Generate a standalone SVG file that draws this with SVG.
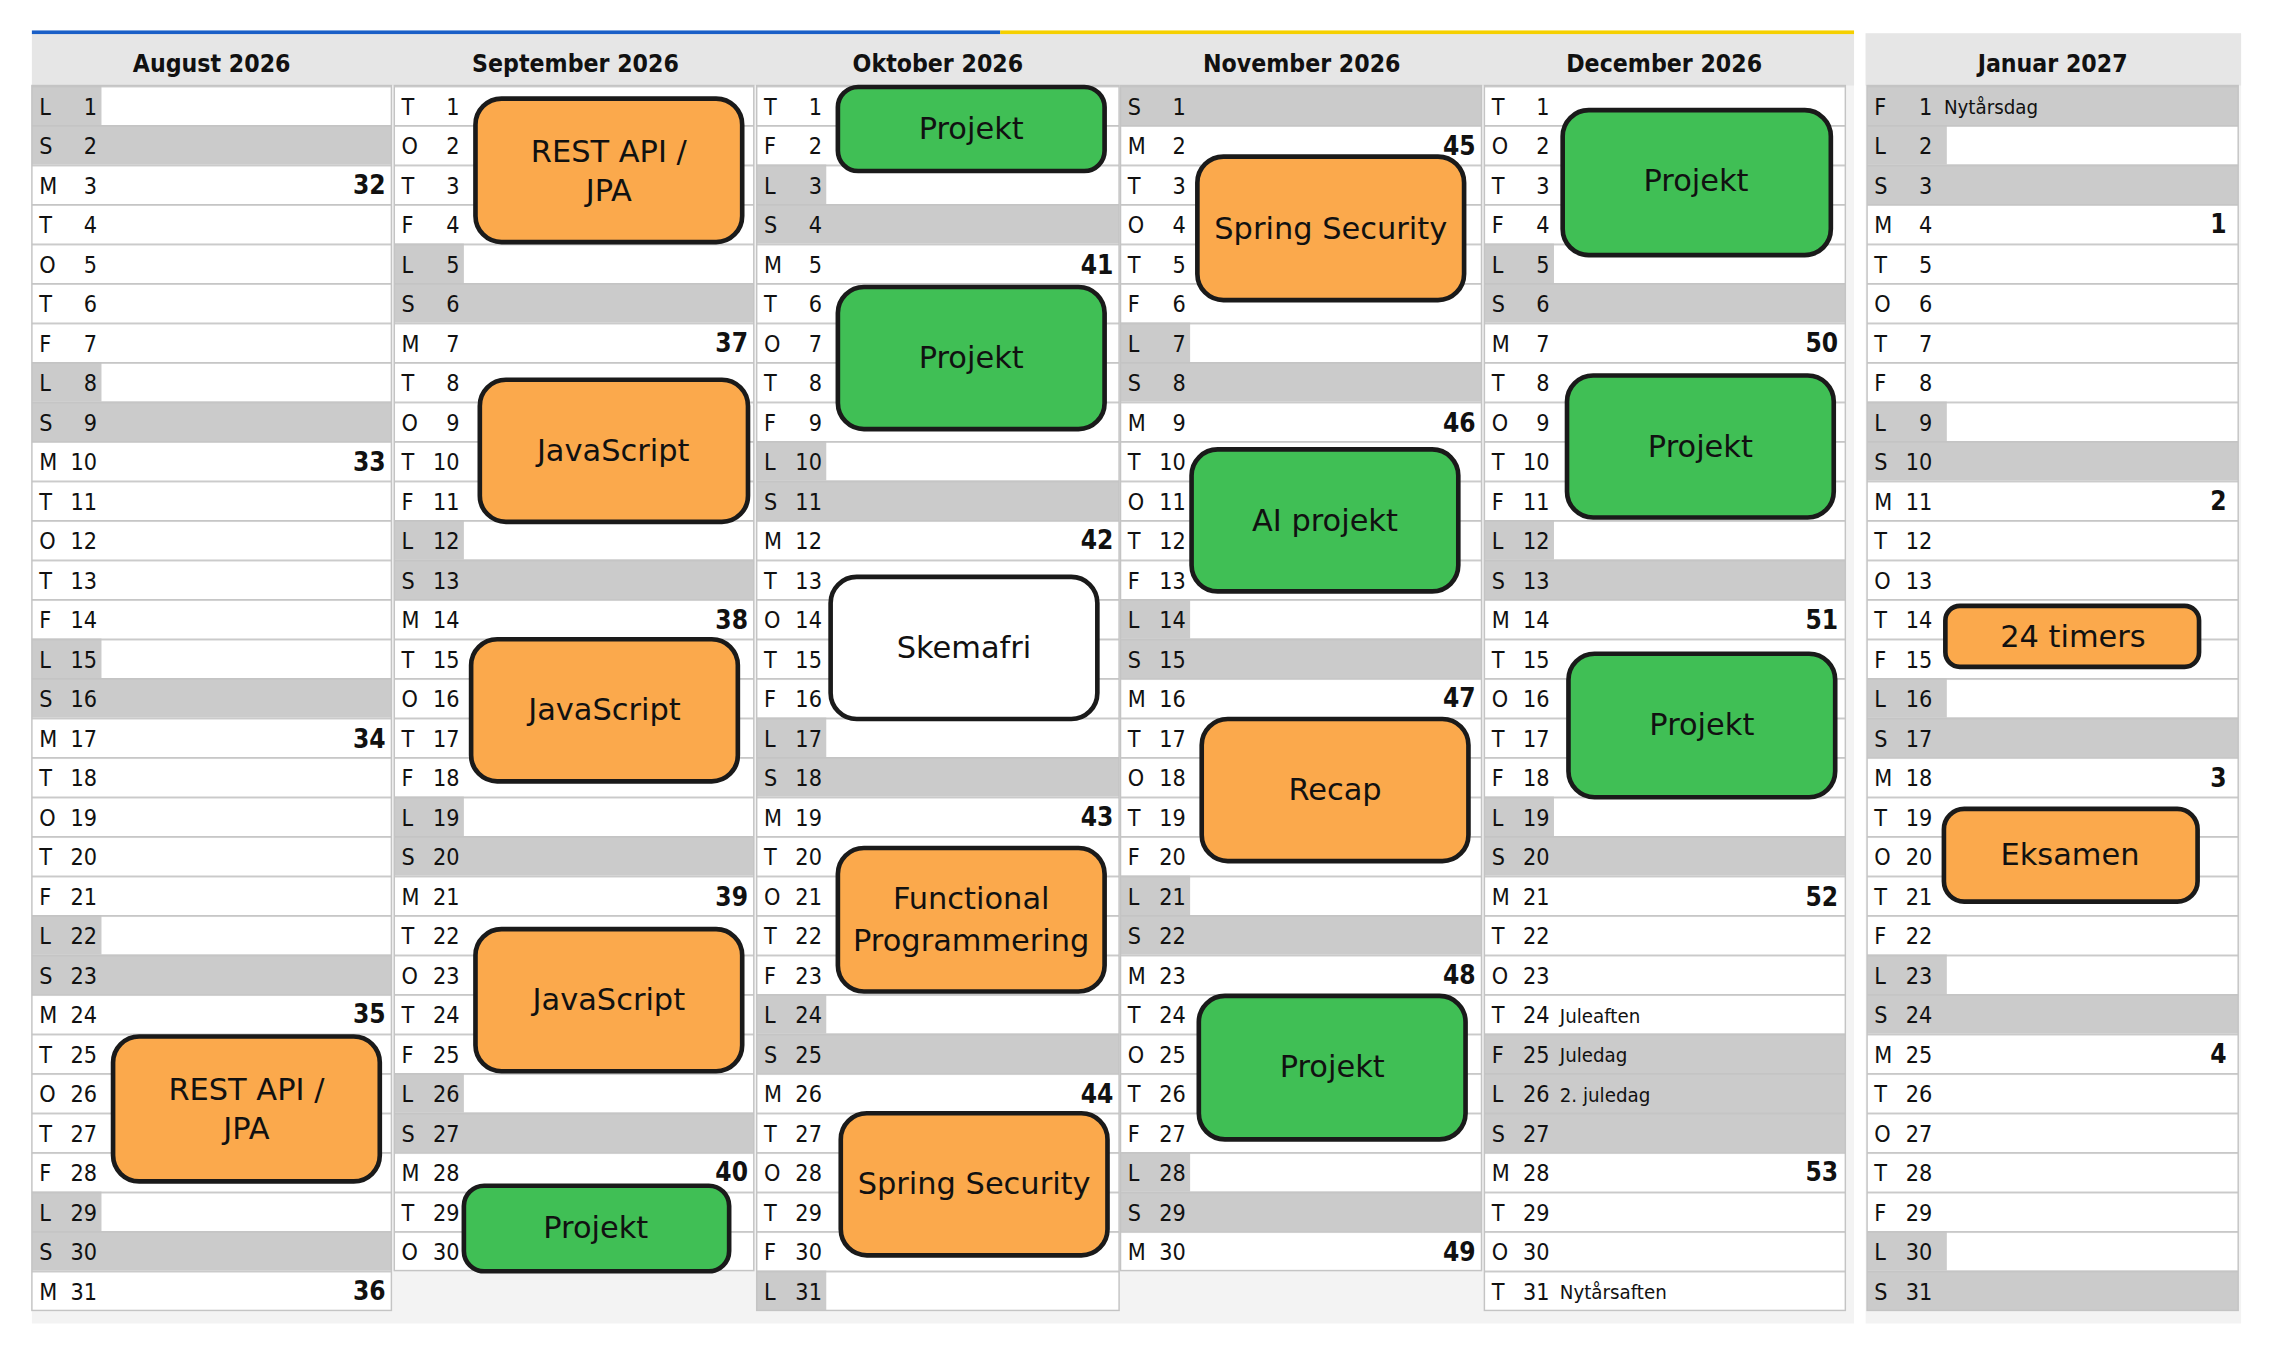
<svg xmlns="http://www.w3.org/2000/svg" width="2273" height="1355" viewBox="0 0 2273 1355">
<style>
.t{font-family:"DejaVu Sans Condensed","DejaVu Sans",sans-serif;font-size:16px;fill:#111}
.h{font-family:"DejaVu Sans Condensed","DejaVu Sans",sans-serif;font-size:17px;font-weight:bold;fill:#111;text-anchor:middle}
.wk{font-family:"DejaVu Sans Condensed","DejaVu Sans",sans-serif;font-size:18px;font-weight:bold;fill:#111;text-anchor:end}
.hol{font-family:"DejaVu Sans Condensed","DejaVu Sans",sans-serif;font-size:14px;fill:#111}
.g{fill:#cbcbcb}
.o{fill:#fba94c;stroke:#1a1a1a;stroke-width:3.2}
.gr{fill:#40bf55;stroke:#1a1a1a;stroke-width:3.2}
.w{fill:#fff;stroke:#1a1a1a;stroke-width:3.2}
.bt{font-family:"DejaVu Sans",sans-serif;font-size:21px;fill:#111;text-anchor:middle}
</style>
<defs>
<pattern id="rows" x="0" y="59" width="250" height="27.25" patternUnits="userSpaceOnUse">
<rect x="0" y="0" width="250" height="1.2" fill="#c4c4c4"/>
</pattern>
<text id="d31" class="t" text-anchor="end"><tspan x="45" y="79">1</tspan><tspan x="45" y="106.25">2</tspan><tspan x="45" y="133.5">3</tspan><tspan x="45" y="160.75">4</tspan><tspan x="45" y="188">5</tspan><tspan x="45" y="215.25">6</tspan><tspan x="45" y="242.5">7</tspan><tspan x="45" y="269.75">8</tspan><tspan x="45" y="297">9</tspan><tspan x="45" y="324.25">10</tspan><tspan x="45" y="351.5">11</tspan><tspan x="45" y="378.75">12</tspan><tspan x="45" y="406">13</tspan><tspan x="45" y="433.25">14</tspan><tspan x="45" y="460.5">15</tspan><tspan x="45" y="487.75">16</tspan><tspan x="45" y="515">17</tspan><tspan x="45" y="542.25">18</tspan><tspan x="45" y="569.5">19</tspan><tspan x="45" y="596.75">20</tspan><tspan x="45" y="624">21</tspan><tspan x="45" y="651.25">22</tspan><tspan x="45" y="678.5">23</tspan><tspan x="45" y="705.75">24</tspan><tspan x="45" y="733">25</tspan><tspan x="45" y="760.25">26</tspan><tspan x="45" y="787.5">27</tspan><tspan x="45" y="814.75">28</tspan><tspan x="45" y="842">29</tspan><tspan x="45" y="869.25">30</tspan><tspan x="45" y="896.5">31</tspan></text>
<text id="d30" class="t" text-anchor="end"><tspan x="45" y="79">1</tspan><tspan x="45" y="106.25">2</tspan><tspan x="45" y="133.5">3</tspan><tspan x="45" y="160.75">4</tspan><tspan x="45" y="188">5</tspan><tspan x="45" y="215.25">6</tspan><tspan x="45" y="242.5">7</tspan><tspan x="45" y="269.75">8</tspan><tspan x="45" y="297">9</tspan><tspan x="45" y="324.25">10</tspan><tspan x="45" y="351.5">11</tspan><tspan x="45" y="378.75">12</tspan><tspan x="45" y="406">13</tspan><tspan x="45" y="433.25">14</tspan><tspan x="45" y="460.5">15</tspan><tspan x="45" y="487.75">16</tspan><tspan x="45" y="515">17</tspan><tspan x="45" y="542.25">18</tspan><tspan x="45" y="569.5">19</tspan><tspan x="45" y="596.75">20</tspan><tspan x="45" y="624">21</tspan><tspan x="45" y="651.25">22</tspan><tspan x="45" y="678.5">23</tspan><tspan x="45" y="705.75">24</tspan><tspan x="45" y="733">25</tspan><tspan x="45" y="760.25">26</tspan><tspan x="45" y="787.5">27</tspan><tspan x="45" y="814.75">28</tspan><tspan x="45" y="842">29</tspan><tspan x="45" y="869.25">30</tspan></text>
</defs>
<rect width="2273" height="1355" fill="#fff"/>
<g transform="scale(1.4496)">
<rect x="22" y="23" width="1257" height="890" fill="#f3f3f3"/>
<rect x="1287" y="23" width="259" height="890" fill="#f3f3f3"/>
<rect x="22" y="23" width="1257" height="36" fill="#e6e6e6"/>
<rect x="1287" y="23" width="259" height="36" fill="#e6e6e6"/>
<rect x="22" y="21" width="668" height="2.5" fill="#1a5fc7"/>
<rect x="690" y="21" width="589" height="2.5" fill="#f5d000"/>
<text class="h" x="146" y="50">August 2026</text>
<text class="h" x="397" y="50">September 2026</text>
<text class="h" x="647" y="50">Oktober 2026</text>
<text class="h" x="898" y="50">November 2026</text>
<text class="h" x="1148" y="50">December 2026</text>
<text class="h" x="1416" y="50">Januar 2027</text>

<g id="aug" transform="translate(22,0)">
<rect x="0" y="59" width="248" height="845" fill="#fff"/>
<rect x="0" y="59" width="48" height="27.25" class="g"/><rect x="0" y="86.25" width="248" height="27.25" class="g"/>
<rect x="0" y="249.75" width="48" height="27.25" class="g"/><rect x="0" y="277" width="248" height="27.25" class="g"/>
<rect x="0" y="440.5" width="48" height="27.25" class="g"/><rect x="0" y="467.75" width="248" height="27.25" class="g"/>
<rect x="0" y="631.25" width="48" height="27.25" class="g"/><rect x="0" y="658.5" width="248" height="27.25" class="g"/>
<rect x="0" y="822" width="48" height="27.25" class="g"/><rect x="0" y="849.25" width="248" height="27.25" class="g"/>
<rect x="0" y="59" width="248" height="845" fill="url(#rows)"/>
<rect x="0" y="59" width="248" height="845" fill="none" stroke="#c4c4c4"/>
<use href="#d31"/>
<text class="wk" x="244" y="134">32</text><text class="wk" x="244" y="325">33</text><text class="wk" x="244" y="516">34</text><text class="wk" x="244" y="706">35</text><text class="wk" x="244" y="897">36</text>
</g>

<g id="sep" transform="translate(272,0)">
<rect x="0" y="59" width="248" height="817.5" fill="#fff"/>
<rect x="0" y="168" width="48" height="27.25" class="g"/><rect x="0" y="195.25" width="248" height="27.25" class="g"/>
<rect x="0" y="358.75" width="48" height="27.25" class="g"/><rect x="0" y="386" width="248" height="27.25" class="g"/>
<rect x="0" y="549.5" width="48" height="27.25" class="g"/><rect x="0" y="576.75" width="248" height="27.25" class="g"/>
<rect x="0" y="740.25" width="48" height="27.25" class="g"/><rect x="0" y="767.5" width="248" height="27.25" class="g"/>
<rect x="0" y="59" width="248" height="817.5" fill="url(#rows)"/>
<rect x="0" y="59" width="248" height="817.5" fill="none" stroke="#c4c4c4"/>
<use href="#d30"/>
<text class="wk" x="244" y="243">37</text><text class="wk" x="244" y="434">38</text><text class="wk" x="244" y="625">39</text><text class="wk" x="244" y="815">40</text>
</g>

<g id="okt" transform="translate(522,0)">
<rect x="0" y="59" width="250" height="845" fill="#fff"/>
<rect x="0" y="113.5" width="48" height="27.25" class="g"/><rect x="0" y="140.75" width="250" height="27.25" class="g"/>
<rect x="0" y="304.25" width="48" height="27.25" class="g"/><rect x="0" y="331.5" width="250" height="27.25" class="g"/>
<rect x="0" y="495" width="48" height="27.25" class="g"/><rect x="0" y="522.25" width="250" height="27.25" class="g"/>
<rect x="0" y="685.75" width="48" height="27.25" class="g"/><rect x="0" y="713" width="250" height="27.25" class="g"/>
<rect x="0" y="876.5" width="48" height="27.25" class="g"/>
<rect x="0" y="59" width="250" height="845" fill="url(#rows)"/>
<rect x="0" y="59" width="250" height="845" fill="none" stroke="#c4c4c4"/>
<use href="#d31"/>
<text class="wk" x="246" y="189">41</text><text class="wk" x="246" y="379">42</text><text class="wk" x="246" y="570">43</text><text class="wk" x="246" y="761">44</text>
</g>

<g id="nov" transform="translate(773,0)">
<rect x="0" y="59" width="249" height="817.5" fill="#fff"/>
<rect x="0" y="59" width="249" height="27.25" class="g"/>
<rect x="0" y="222.5" width="48" height="27.25" class="g"/><rect x="0" y="249.75" width="249" height="27.25" class="g"/>
<rect x="0" y="413.25" width="48" height="27.25" class="g"/><rect x="0" y="440.5" width="249" height="27.25" class="g"/>
<rect x="0" y="604" width="48" height="27.25" class="g"/><rect x="0" y="631.25" width="249" height="27.25" class="g"/>
<rect x="0" y="794.75" width="48" height="27.25" class="g"/><rect x="0" y="822" width="249" height="27.25" class="g"/>
<rect x="0" y="59" width="249" height="817.5" fill="url(#rows)"/>
<rect x="0" y="59" width="249" height="817.5" fill="none" stroke="#c4c4c4"/>
<use href="#d30"/>
<text class="wk" x="245" y="107">45</text><text class="wk" x="245" y="298">46</text><text class="wk" x="245" y="488">47</text><text class="wk" x="245" y="679">48</text><text class="wk" x="245" y="870">49</text>
</g>

<g id="dec" transform="translate(1024,0)">
<rect x="0" y="59" width="249" height="845" fill="#fff"/>
<rect x="0" y="168" width="48" height="27.25" class="g"/><rect x="0" y="195.25" width="249" height="27.25" class="g"/>
<rect x="0" y="358.75" width="48" height="27.25" class="g"/><rect x="0" y="386" width="249" height="27.25" class="g"/>
<rect x="0" y="549.5" width="48" height="27.25" class="g"/><rect x="0" y="576.75" width="249" height="27.25" class="g"/>
<rect x="0" y="713" width="249" height="81.75" class="g"/>
<rect x="0" y="59" width="249" height="845" fill="url(#rows)"/>
<rect x="0" y="59" width="249" height="845" fill="none" stroke="#c4c4c4"/>
<use href="#d31"/>
<text class="hol" x="52" y="705.5">Juleaften</text><text class="hol" x="52" y="732.75">Juledag</text><text class="hol" x="52" y="760">2. juledag</text><text class="hol" x="52" y="896.25">Nytårsaften</text>
<text class="wk" x="244" y="243">50</text><text class="wk" x="244" y="434">51</text><text class="wk" x="244" y="625">52</text><text class="wk" x="244" y="815">53</text>
</g>

<g id="jan" transform="translate(1288,0)">
<rect x="0" y="59" width="256" height="845" fill="#fff"/>
<rect x="0" y="59" width="256" height="27.25" class="g"/>
<rect x="0" y="86.25" width="55" height="27.25" class="g"/><rect x="0" y="113.5" width="256" height="27.25" class="g"/>
<rect x="0" y="277" width="55" height="27.25" class="g"/><rect x="0" y="304.25" width="256" height="27.25" class="g"/>
<rect x="0" y="467.75" width="55" height="27.25" class="g"/><rect x="0" y="495" width="256" height="27.25" class="g"/>
<rect x="0" y="658.5" width="55" height="27.25" class="g"/><rect x="0" y="685.75" width="256" height="27.25" class="g"/>
<rect x="0" y="849.25" width="55" height="27.25" class="g"/><rect x="0" y="876.5" width="256" height="27.25" class="g"/>
<rect x="0" y="59" width="256" height="845" fill="url(#rows)"/>
<rect x="0" y="59" width="256" height="845" fill="none" stroke="#c4c4c4"/>
<use href="#d31"/>
<text class="hol" x="53" y="78.5">Nytårsdag</text>
<text class="wk" x="248" y="161">1</text><text class="wk" x="248" y="352">2</text><text class="wk" x="248" y="543">3</text><text class="wk" x="248" y="733">4</text>
</g>

<g id="letters">
<text class="t" x="27 27 27 27 27 27 27 27 27 27 27 27 27 27 27 27 27 27 27 27 27 27 27 27 27 27 27 27 27 27 27" y="79 106.25 133.5 160.75 188 215.25 242.5 269.75 297 324.25 351.5 378.75 406 433.25 460.5 487.75 515 542.25 569.5 596.75 624 651.25 678.5 705.75 733 760.25 787.5 814.75 842 869.25 896.5">LSMTOTFLSMTOTFLSMTOTFLSMTOTFLSM</text>
<text class="t" x="277 277 277 277 277 277 277 277 277 277 277 277 277 277 277 277 277 277 277 277 277 277 277 277 277 277 277 277 277 277" y="79 106.25 133.5 160.75 188 215.25 242.5 269.75 297 324.25 351.5 378.75 406 433.25 460.5 487.75 515 542.25 569.5 596.75 624 651.25 678.5 705.75 733 760.25 787.5 814.75 842 869.25">TOTFLSMTOTFLSMTOTFLSMTOTFLSMTO</text>
<text class="t" x="527 527 527 527 527 527 527 527 527 527 527 527 527 527 527 527 527 527 527 527 527 527 527 527 527 527 527 527 527 527 527" y="79 106.25 133.5 160.75 188 215.25 242.5 269.75 297 324.25 351.5 378.75 406 433.25 460.5 487.75 515 542.25 569.5 596.75 624 651.25 678.5 705.75 733 760.25 787.5 814.75 842 869.25 896.5">TFLSMTOTFLSMTOTFLSMTOTFLSMTOTFL</text>
<text class="t" x="778 778 778 778 778 778 778 778 778 778 778 778 778 778 778 778 778 778 778 778 778 778 778 778 778 778 778 778 778 778" y="79 106.25 133.5 160.75 188 215.25 242.5 269.75 297 324.25 351.5 378.75 406 433.25 460.5 487.75 515 542.25 569.5 596.75 624 651.25 678.5 705.75 733 760.25 787.5 814.75 842 869.25">SMTOTFLSMTOTFLSMTOTFLSMTOTFLSM</text>
<text class="t" x="1029 1029 1029 1029 1029 1029 1029 1029 1029 1029 1029 1029 1029 1029 1029 1029 1029 1029 1029 1029 1029 1029 1029 1029 1029 1029 1029 1029 1029 1029 1029" y="79 106.25 133.5 160.75 188 215.25 242.5 269.75 297 324.25 351.5 378.75 406 433.25 460.5 487.75 515 542.25 569.5 596.75 624 651.25 678.5 705.75 733 760.25 787.5 814.75 842 869.25 896.5">TOTFLSMTOTFLSMTOTFLSMTOTFLSMTOT</text>
<text class="t" x="1293 1293 1293 1293 1293 1293 1293 1293 1293 1293 1293 1293 1293 1293 1293 1293 1293 1293 1293 1293 1293 1293 1293 1293 1293 1293 1293 1293 1293 1293 1293" y="79 106.25 133.5 160.75 188 215.25 242.5 269.75 297 324.25 351.5 378.75 406 433.25 460.5 487.75 515 542.25 569.5 596.75 624 651.25 678.5 705.75 733 760.25 787.5 814.75 842 869.25 896.5">FLSMTOTFLSMTOTFLSMTOTFLSMTOTFLS</text>
</g>

<g id="b1"><rect class="o" x="328" y="68" width="184" height="99" rx="18"/><text class="bt" x="420" y="112">REST API /</text><text class="bt" x="420" y="139">JPA</text></g>
<g id="b2"><rect class="o" x="331" y="262" width="185" height="98" rx="18"/><text class="bt" x="423" y="318">JavaScript</text></g>
<g id="b3"><rect class="o" x="325" y="441" width="184" height="98" rx="18"/><text class="bt" x="417" y="497">JavaScript</text></g>
<g id="b4"><rect class="o" x="328" y="641" width="184" height="98" rx="18"/><text class="bt" x="420" y="697">JavaScript</text></g>
<g id="b5"><rect class="gr" x="320" y="818" width="183" height="59" rx="14"/><text class="bt" x="411" y="854">Projekt</text></g>
<g id="b6"><rect class="o" x="78" y="715" width="184" height="100" rx="18"/><text class="bt" x="170" y="759">REST API /</text><text class="bt" x="170" y="786">JPA</text></g>
<g id="b7"><rect class="gr" x="578" y="60" width="184" height="58" rx="14"/><text class="bt" x="670" y="96">Projekt</text></g>
<g id="b8"><rect class="gr" x="578" y="198" width="184" height="98" rx="18"/><text class="bt" x="670" y="254">Projekt</text></g>
<g id="b9"><rect class="w" x="573" y="398" width="184" height="98" rx="18"/><text class="bt" x="665" y="454">Skemafri</text></g>
<g id="b10"><rect class="o" x="578" y="585" width="184" height="99" rx="18"/><text class="bt" x="670" y="627">Functional</text><text class="bt" x="670" y="656">Programmering</text></g>
<g id="b11"><rect class="o" x="580" y="768" width="184" height="98" rx="18"/><text class="bt" x="672" y="824">Spring Security</text></g>
<g id="b12"><rect class="o" x="826" y="108" width="184" height="99" rx="18"/><text class="bt" x="918" y="165">Spring Security</text></g>
<g id="b13"><rect class="gr" x="822" y="310" width="184" height="98" rx="18"/><text class="bt" x="914" y="366">AI projekt</text></g>
<g id="b14"><rect class="o" x="829" y="496" width="184" height="98" rx="18"/><text class="bt" x="921" y="552">Recap</text></g>
<g id="b15"><rect class="gr" x="827" y="687" width="184" height="99" rx="18"/><text class="bt" x="919" y="743">Projekt</text></g>
<g id="b16"><rect class="gr" x="1078" y="76" width="185" height="100" rx="18"/><text class="bt" x="1170" y="132">Projekt</text></g>
<g id="b17"><rect class="gr" x="1081" y="259" width="184" height="98" rx="18"/><text class="bt" x="1173" y="315">Projekt</text></g>
<g id="b18"><rect class="gr" x="1082" y="451" width="184" height="99" rx="18"/><text class="bt" x="1174" y="507">Projekt</text></g>
<g id="b19"><rect class="o" x="1342" y="418" width="175" height="42" rx="10"/><text class="bt" x="1430" y="446">24 timers</text></g>
<g id="b20"><rect class="o" x="1341" y="558" width="175" height="64" rx="14"/><text class="bt" x="1428" y="597">Eksamen</text></g>
<g id="connectors"></g>
</g>
</svg>
